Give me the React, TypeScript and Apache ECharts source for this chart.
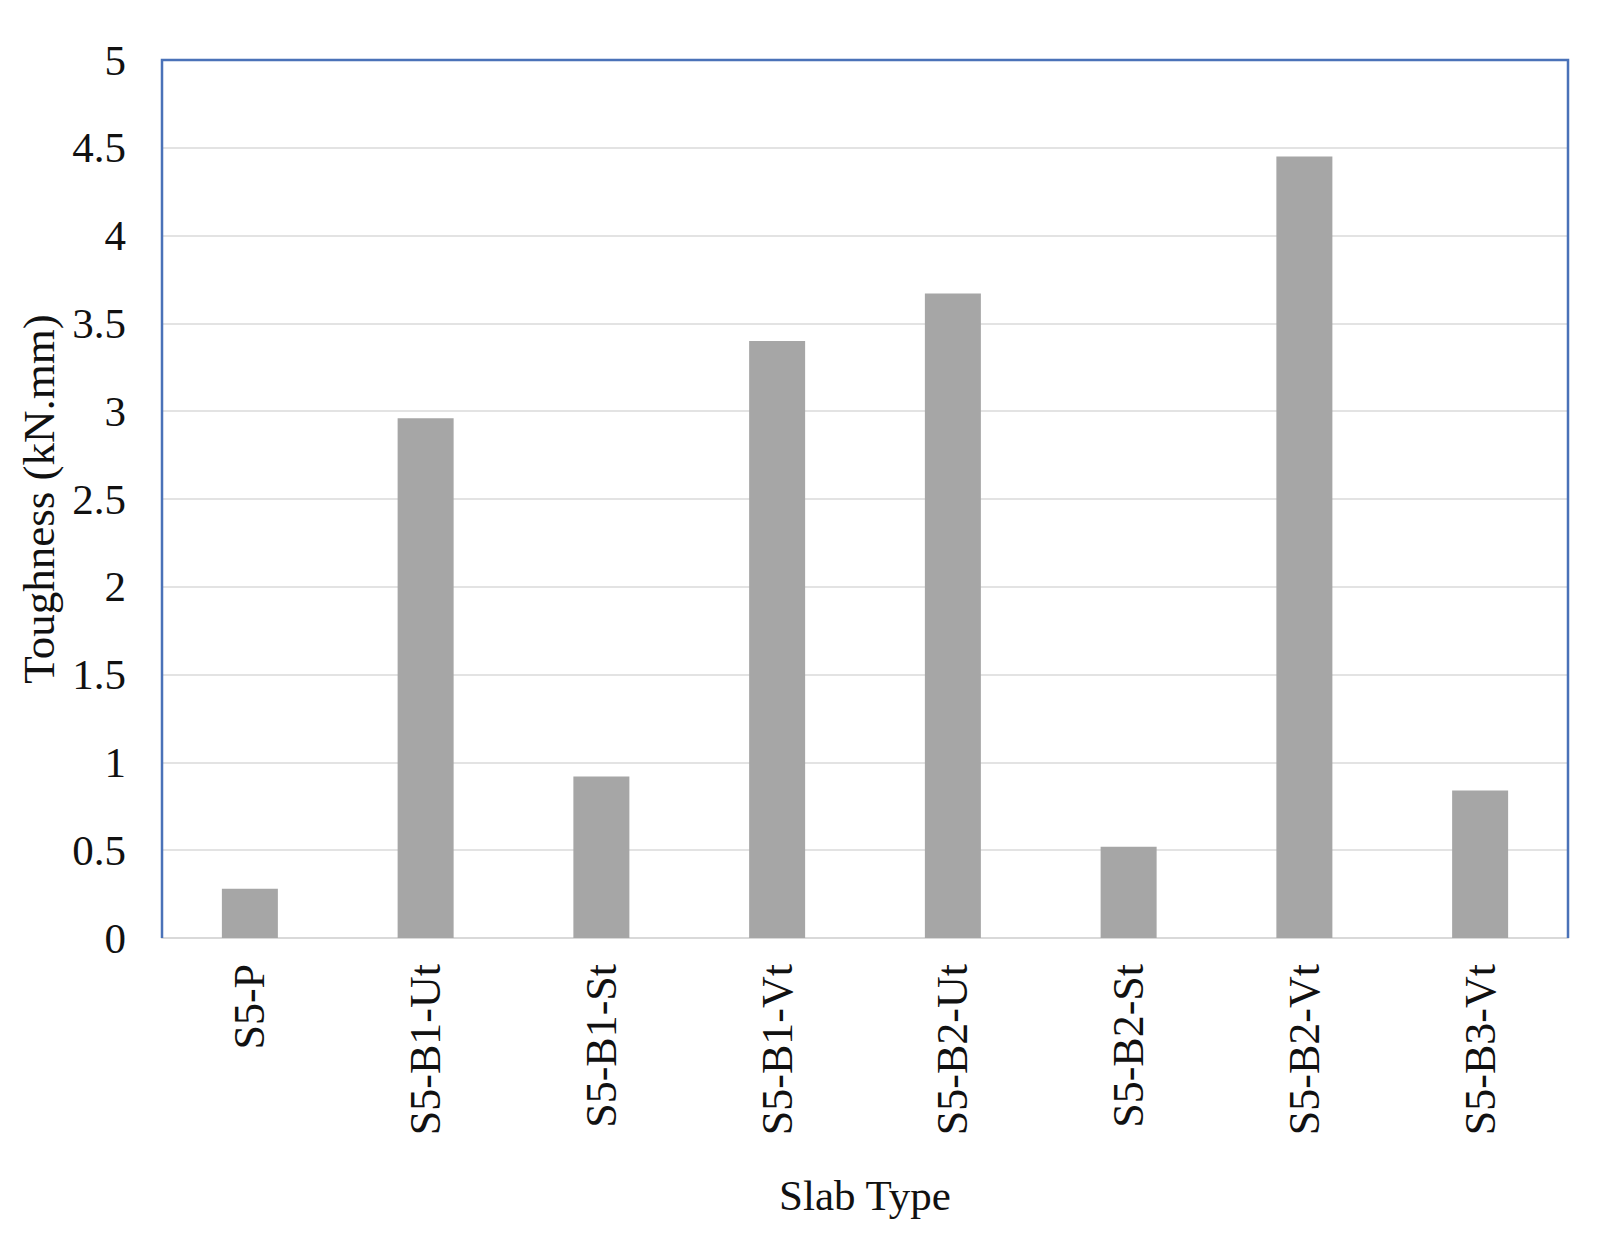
import React, { useEffect, useRef } from "react";
import * as echarts from "echarts";

const categories = ["S5-P", "S5-B1-Ut", "S5-B1-St", "S5-B1-Vt", "S5-B2-Ut", "S5-B2-St", "S5-B2-Vt", "S5-B3-Vt"];
const toughness = [0.28, 2.96, 0.92, 3.4, 3.67, 0.52, 4.45, 0.84];
const yMin = 0;
const yMax = 5;
const yInterval = 0.5;

const W = 1618;
const H = 1247;
const G = { left: 162, right: 50, top: 60, bottom: 309 };

export default function App() {
  const ref = useRef<HTMLDivElement>(null);
  useEffect(() => {
    if (!ref.current) return;
    const chart = echarts.init(ref.current, undefined, { renderer: "svg" });
    const font = "'Liberation Serif', 'Times New Roman', serif";
    const gw = W - G.left - G.right;
    const gh = H - G.top - G.bottom;
    chart.setOption({
      animation: false,
      backgroundColor: "#ffffff",
      grid: { ...G, show: false },
      graphic: [
        {
          type: "polyline",
          z: 100,
          shape: {
            points: [
              [G.left, G.top + gh],
              [G.left, G.top],
              [G.left + gw, G.top],
              [G.left + gw, G.top + gh],
            ],
          },
          style: { stroke: "#4a72b8", lineWidth: 2.5, fill: null },
          silent: true,
        },
      ],
      xAxis: {
        type: "category",
        data: categories,
        name: "Slab Type",
        nameLocation: "middle",
        nameGap: 236,
        nameTextStyle: { fontFamily: font, fontSize: 43, color: "#111" },
        axisLine: { show: true, lineStyle: { color: "#d9d9d9", width: 2 } },
        axisTick: { show: false },
        axisLabel: {
          rotate: 90,
          margin: 26,
          fontFamily: font,
          fontSize: 44,
          color: "#111",
        },
      },
      yAxis: {
        type: "value",
        min: yMin,
        max: yMax,
        interval: yInterval,
        name: "Toughness (kN.mm)",
        nameLocation: "middle",
        nameGap: 98,
        nameTextStyle: { fontFamily: font, fontSize: 45, color: "#111" },
        axisLine: { show: false },
        axisTick: { show: false },
        axisLabel: {
          margin: 36,
          fontFamily: font,
          fontSize: 43,
          color: "#111",
        },
        splitLine: { show: true, lineStyle: { color: "#e3e3e3", width: 2 } },
      },
      series: [
        {
          type: "bar",
          data: toughness,
          barWidth: 56,
          itemStyle: { color: "#a6a6a6" },
        },
      ],
    });
    return () => chart.dispose();
  }, []);
  return (
    <div
      ref={ref}
      style={{ position: "absolute", left: 0, top: 0, width: W, height: H }}
    />
  );
}
